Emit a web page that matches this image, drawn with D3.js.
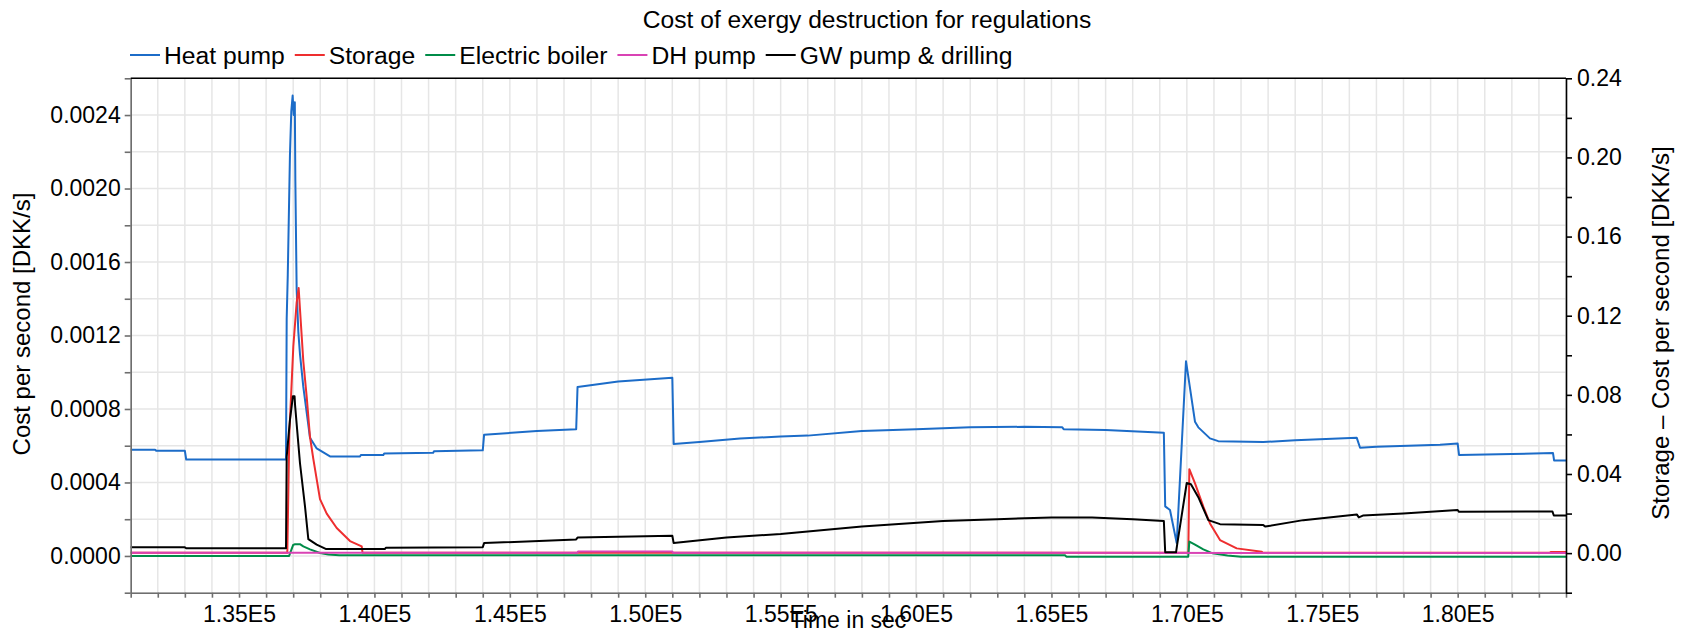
<!DOCTYPE html>
<html>
<head>
<meta charset="utf-8">
<script src="https://cdn.jsdelivr.net/npm/d3@7/dist/d3.min.js"></script>
<style>
  html, body { margin: 0; padding: 0; background: #fff; }
  svg { display: block; font-family: "Liberation Sans", Arial, sans-serif; }
  .grid line { stroke: #e6e6e6; stroke-width: 1.5; }
  .axis text { fill: #000; font-size: 23px; }
  .axis path, .axis line { stroke: #6e6e6e; stroke-width: 1.6; }
  .axis.right path, .axis.right line { stroke: #000; }
</style>
</head>
<body>
<svg id="chart" width="1682" height="639"></svg>
<script>
// Time stamps [s] and cost rates for each component
const heatPumpT = [131000,131900,131950,133000,133050,136735,136760,136800,136880,136930,136980,137020,137060,137080,137128,137190,137250,137374,137621,137868,138360,139470,139500,140330,140360,142170,142200,144000,144050,146000,147450,147500,149000,151000,151050,152000,153500,155000,156000,158000,160000,162000,164000,165400,165450,167000,169150,169200,169377,169625,169968,170301,170423,170853,171160,172822,174000,176274,176396,177000,179350,180000,180050,182000,183520,183560,184000];
const heatPumpV = [0.000578,0.000578,0.000572,0.000572,0.000525,0.000525,0.00129,0.00153,0.00218,0.00242,0.002506,0.00240,0.00247,0.00204,0.00145,0.00122,0.0011,0.00092,0.000643,0.000585,0.000542,0.000542,0.00055,0.00055,0.000558,0.000562,0.00057,0.000575,0.00066,0.00068,0.00069,0.00092,0.00095,0.00097,0.00061,0.00062,0.00064,0.00065,0.000655,0.00068,0.00069,0.0007,0.000703,0.0007,0.00069,0.000685,0.00067,0.00027,0.00025,0.00007,0.00106,0.00073,0.0007,0.00064,0.000625,0.00062,0.00063,0.000643,0.000589,0.000595,0.000605,0.000612,0.00055,0.000555,0.00056,0.00052,0.00052];

// Storage is read on the right-hand axis
const storageT = [131000,136783,136857,137005,137128,137202,137252,137374,137499,137621,137743,137990,138238,138607,139098,139530,139560,170054,170091,170301,170608,170854,171224,171841,172765,172800,183400,183450,184000];
const storageV = [0.0002,0.0002,0.060,0.1045,0.1266,0.134,0.123,0.097,0.079,0.0587,0.0476,0.0273,0.020,0.0127,0.0061,0.0034,0.0002,0.0002,0.0424,0.0353,0.0235,0.015,0.0066,0.0024,0.0007,0.0002,0.0002,0.0006,0.0006];

const boilerT = [131000,136850,137000,137067,137250,137374,137621,137990,138300,138700,165500,165550,170050,170091,170300,170608,170950,171500,172000,184000];
const boilerV = [0,0,0.00006,0.000064,0.000064,0.000052,0.000036,0.000016,0.000008,0.000004,0.000004,-0.000004,-0.000004,0.000078,0.000062,0.000036,0.000014,0.000002,-0.000004,-0.000004];

const dhPumpT = [131000,147500,147520,151000,151020,184000];
const dhPumpV = [0.000018,0.000018,0.000024,0.000024,0.000018,0.000016];

const gwPumpT = [131000,133000,133050,136735,136760,136880,136990,137050,137070,137250,137436,137559,137868,138200,140390,140420,144000,144050,147450,147500,151000,151050,153000,155000,158000,161000,163000,165000,166500,168000,169150,169200,169600,169650,169995,170150,170423,170793,171225,172822,172900,174300,176274,176350,176500,177993,180000,180050,183500,183550,184000];
const gwPumpV = [0.000047,0.000047,0.000042,0.000042,0.00054,0.00074,0.00087,0.00087,0.00082,0.000506,0.00027,0.000092,0.000062,0.000038,0.000038,0.000045,0.000048,0.00007,0.00009,0.0001,0.00011,0.00007,0.0001,0.00012,0.00016,0.00019,0.0002,0.00021,0.00021,0.0002,0.00019,0.00002,0.00002,0.00007,0.000397,0.00039,0.00032,0.000195,0.000173,0.000168,0.00016,0.000195,0.000226,0.00021,0.00022,0.000231,0.00025,0.00024,0.000242,0.00022,0.00022];

const seriesNames  = ["Heat pump", "Storage", "Electric boiler", "DH pump", "GW pump & drilling"];
const seriesColors = ["#1c6cc8", "#ee2e2f", "#008c48", "#d943b4", "#000000"];

// Axis ranges and labelled ticks
const timeDomain  = [131000, 184000];
const leftDomain  = [-0.0002, 0.0026];
const rightDomain = [-0.02, 0.24];
const timeLabelTicks  = [135000,140000,145000,150000,155000,160000,165000,170000,175000,180000];
const leftLabelTicks  = [0,0.0004,0.0008,0.0012,0.0016,0.0020,0.0024];
const rightLabelTicks = [0,0.04,0.08,0.12,0.16,0.20,0.24];

const titleText  = "Cost of exergy destruction for regulations";
const xTitle     = "Time in sec";
const yLeftTitle = "Cost per second [DKK/s]";
const yRightTitle = "Storage \u2013 Cost per second [DKK/s]";

const svg = d3.select("#chart");
const plot = { left: 130.7, right: 1566, top: 78.3, bottom: 592.7 };

const x  = d3.scaleLinear().domain(timeDomain).range([plot.left, plot.right]);
const yL = d3.scaleLinear().domain(leftDomain).range([plot.bottom, plot.top]);
const yR = d3.scaleLinear().domain(rightDomain).range([plot.bottom, plot.top]);

const xMinor = d3.range(timeDomain[0], timeDomain[1] + 1, 1000);
const yLMinor = d3.range(0, 14 + 1).map(i => +(leftDomain[0] + i * 0.0002).toFixed(4));
const yRMinor = d3.range(0, 13 + 1).map(i => +(rightDomain[0] + i * 0.02).toFixed(2));

// Grid
const grid = svg.append("g").attr("class", "grid");
grid.selectAll("line.v").data(xMinor).join("line").attr("class", "v")
  .attr("x1", d => x(d)).attr("x2", d => x(d)).attr("y1", plot.top).attr("y2", plot.bottom);
grid.selectAll("line.h").data(yLMinor).join("line").attr("class", "h")
  .attr("x1", plot.left).attr("x2", plot.right).attr("y1", d => yL(d)).attr("y2", d => yL(d));

// Series
const seriesData = [
  { t: heatPumpT, v: heatPumpV, y: yL },
  { t: storageT,  v: storageV,  y: yR },
  { t: boilerT,   v: boilerV,   y: yL },
  { t: dhPumpT,   v: dhPumpV,   y: yL },
  { t: gwPumpT,   v: gwPumpV,   y: yL }
];
const lines = svg.append("g");
seriesData.forEach((s, i) => {
  const pts = s.t.map((t, k) => [t, s.v[k]]);
  const line = d3.line().x(d => x(d[0])).y(d => s.y(d[1]));
  lines.append("path").attr("d", line(pts))
    .attr("fill", "none").attr("stroke", seriesColors[i])
    .attr("stroke-width", 2).attr("stroke-linejoin", "round");
});

// Axes
const fmtTime = d => timeLabelTicks.includes(d) ? (d / 1e5).toFixed(2) + "E5" : "";
const fmtLeft = d => leftLabelTicks.some(v => Math.abs(v - d) < 1e-9) ? d.toFixed(4) : "";
const fmtRight = d => rightLabelTicks.some(v => Math.abs(v - d) < 1e-9) ? d.toFixed(2) : "";

svg.append("g").attr("class", "axis bottom")
  .attr("transform", `translate(0,${plot.bottom})`)
  .call(d3.axisBottom(x).tickValues(xMinor).tickFormat(fmtTime).tickSize(5).tickPadding(7.5).tickSizeOuter(0));

svg.append("g").attr("class", "axis left")
  .attr("transform", `translate(${plot.left},0)`)
  .call(d3.axisLeft(yL).tickValues(yLMinor).tickFormat(fmtLeft).tickSize(6).tickPadding(4).tickSizeOuter(0));

svg.append("g").attr("class", "axis right")
  .attr("transform", `translate(${plot.right},0)`)
  .call(d3.axisRight(yR).tickValues(yRMinor).tickFormat(fmtRight).tickSize(6).tickPadding(5).tickSizeOuter(0));

// Top border
svg.append("line").attr("x1", plot.left).attr("x2", plot.right)
  .attr("y1", plot.top).attr("y2", plot.top).attr("stroke", "#000").attr("stroke-width", 1.6);

// Title
svg.append("text").attr("x", 867).attr("y", 28).attr("text-anchor", "middle")
  .attr("font-size", 24.6).text(titleText);

// Axis titles
svg.append("text").attr("x", 848).attr("y", 628).attr("text-anchor", "middle")
  .attr("font-size", 23).text(xTitle);
svg.append("text").attr("transform", "translate(30,324) rotate(-90)")
  .attr("text-anchor", "middle").attr("font-size", 24).text(yLeftTitle);
svg.append("text").attr("transform", "translate(1669,333) rotate(-90)")
  .attr("text-anchor", "middle").attr("font-size", 24).text(yRightTitle);

// Legend
const legend = svg.append("g");
let lx = 130;
seriesNames.forEach((name, i) => {
  legend.append("line").attr("x1", lx).attr("x2", lx + 30).attr("y1", 55).attr("y2", 55)
    .attr("stroke", seriesColors[i]).attr("stroke-width", 2);
  const t = legend.append("text").attr("x", lx + 34).attr("y", 55).attr("dy", "0.35em")
    .attr("font-size", 24.7).text(name);
  lx += 34 + t.node().getComputedTextLength() + 10;
});
</script>
</body>
</html>
